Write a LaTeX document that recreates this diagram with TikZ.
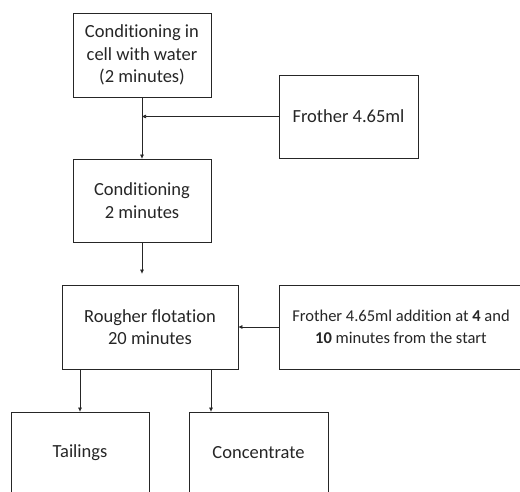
\documentclass[tikz,border=0pt]{standalone}
\usepackage{fontspec}
\setmainfont{Carlito}[Ligatures={NoCommon,NoRare,NoDiscretionary}]
\usetikzlibrary{shadows,arrows.meta}
\begin{document}
\begin{tikzpicture}[x=1pt,y=-1pt,
  boxstyle/.style={draw=black!85,line width=0.8pt,fill=white,inner sep=0pt,
    drop shadow={shadow xshift=1.2pt,shadow yshift=-1.2pt,opacity=0.35,fill=black!60},
    align=center,font=\fontsize{18.5}{22.5}\selectfont,text=black!85},
  lbl/.style={font=\fontsize{18.5}{22.5}\selectfont,text=black!85},
  arr/.style={draw=black!85,line width=0.7pt,-{Triangle[length=4pt,width=3.5pt]}}]
\useasboundingbox (0,0) rectangle (520,492);
\node[boxstyle,minimum width=138pt,minimum height=84pt] (b1) at (142,55) {Conditioning in\\cell with water\\(2 minutes)};
\node[boxstyle,minimum width=139pt,minimum height=83pt] (f1) at (348.5,116.5) {Frother 4.65ml};
\node[boxstyle,minimum width=138pt,minimum height=83pt] (b2) at (142,200.5) {Conditioning\\2 minutes};
\node[boxstyle,minimum width=176pt,minimum height=84pt] (b3) at (150,327) {Rougher flotation\\20 minutes};
\node[boxstyle,minimum width=244pt,minimum height=84pt,font=\fontsize{16.5}{22.5}\selectfont] (f2) at (401,327) {Frother 4.65ml addition at \textbf{4} and\\\textbf{10} minutes from the start};
\node[boxstyle,minimum width=138pt,minimum height=100pt] (t) at (80,462) {};
\node[boxstyle,minimum width=139pt,minimum height=100pt] (c) at (258.5,462) {};
\node[lbl] (tl) at (80,453) {Tailings};
\node[lbl] (cl) at (258.5,453) {Concentrate};
\coordinate (j1) at (142,116.5);
\draw[arr] (b1.south) -- (b2.north);
\draw[arr] (f1.west) -- (j1);
\draw[arr] (b2.south) -- ([yshift=11pt]b3.north -| b2.south);
\draw[arr] (f2.west) -- (b3.east);
\draw[arr] (b3.south -| t.north) -- (t.north);
\draw[arr] ([xshift=61pt]b3.south) -- ([xshift=61pt]b3.south |- c.north);
\end{tikzpicture}
\end{document}
